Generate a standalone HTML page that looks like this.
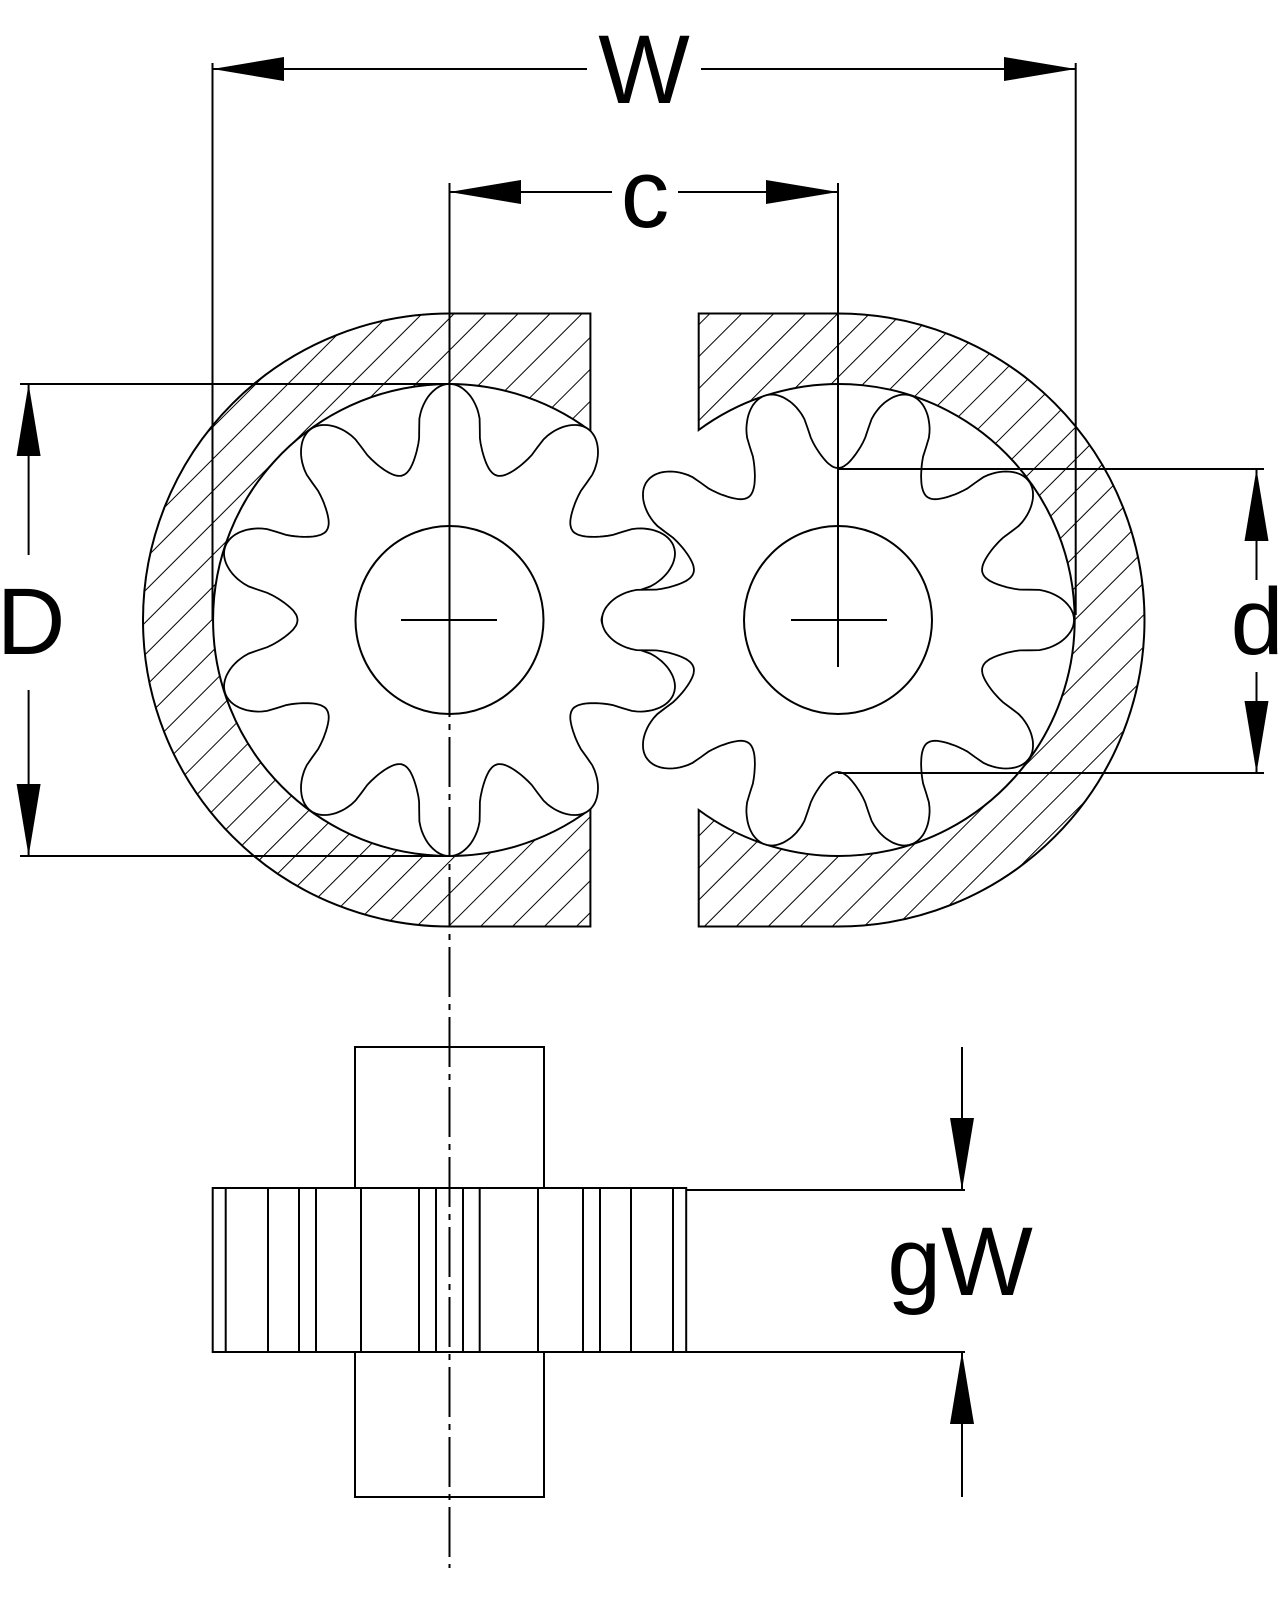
<!DOCTYPE html>
<html><head><meta charset="utf-8"><style>
html,body{margin:0;padding:0;background:#fff}
svg{display:block}
text{font-family:"Liberation Sans",Arial,sans-serif;fill:#000}
</style></head><body>
<svg id="s" width="1280" height="1600" viewBox="0 0 1280 1600" xmlns="http://www.w3.org/2000/svg">
<defs>
<pattern id="h" patternUnits="userSpaceOnUse" width="22.6" height="22.6" patternTransform="rotate(45)">
<line x1="0" y1="0" x2="0" y2="22.6" stroke="#000" stroke-width="2"/>
</pattern>
</defs>
<g fill="url(#h)" stroke="#000" stroke-width="2">
<path d="M449.5,313.5 H590.4 V431 A236,236 0 1 0 590.4,809 V926.5 H449.5 A306.5,306.5 0 0 1 449.5,313.5 Z"/>
<path d="M838,313.5 H698.7 V430 A236,236 0 1 1 698.7,810 V926.5 H838 A306.5,306.5 0 0 0 838,313.5 Z"/>
</g>
<path id="g1" fill="#fff" stroke="#000" stroke-width="1.8"/>
<path id="g2" fill="#fff" stroke="#000" stroke-width="1.8"/>
<g fill="none" stroke="#000" stroke-width="2">
<circle cx="449.5" cy="620" r="94"/>
<circle cx="838" cy="620" r="94"/>
<line x1="401" y1="620" x2="497" y2="620"/>
<line x1="791" y1="620" x2="887" y2="620"/>
<!-- bottom view -->
<rect x="355" y="1047" width="189" height="450"/>
<rect x="212.7" y="1188" width="473.5" height="164" fill="#fff"/>
<g id="vl"></g>
<line x1="449.5" y1="183" x2="449.5" y2="667"/>
<line x1="449.5" y1="667" x2="449.5" y2="1568" stroke-dasharray="50,7,6,7"/>
<line x1="838" y1="183" x2="838" y2="667"/>
<!-- W -->
<line x1="212.5" y1="63" x2="212.5" y2="620"/>
<line x1="1075.7" y1="63" x2="1075.7" y2="615"/>
<line x1="212.5" y1="69" x2="587" y2="69"/>
<line x1="701" y1="69" x2="1075.7" y2="69"/>
<!-- c -->
<line x1="449.5" y1="192" x2="612" y2="192"/>
<line x1="678" y1="192" x2="838" y2="192"/>
<!-- D -->
<line x1="20" y1="384" x2="449.5" y2="384"/>
<line x1="20" y1="856" x2="449.5" y2="856"/>
<line x1="28.6" y1="384" x2="28.6" y2="555"/>
<line x1="28.6" y1="690" x2="28.6" y2="856"/>
<!-- d -->
<line x1="838" y1="469" x2="1264" y2="469"/>
<line x1="838" y1="773" x2="1264" y2="773"/>
<line x1="1256.5" y1="469" x2="1256.5" y2="580"/>
<line x1="1256.5" y1="672" x2="1256.5" y2="773"/>
<line x1="686" y1="1190" x2="965" y2="1190"/>
<line x1="686" y1="1352" x2="965" y2="1352"/>
<line x1="962" y1="1047" x2="962" y2="1190"/>
<line x1="962" y1="1352" x2="962" y2="1497"/>
</g>
<g fill="#000">
<polygon points="212.5,69 284,57 284,81"/>
<polygon points="1075.7,69 1004,57 1004,81"/>
<polygon points="449.5,192 521,180 521,204"/>
<polygon points="838,192 766,180 766,204"/>
<polygon points="28.6,384 16.6,456 40.6,456"/>
<polygon points="28.6,856 16.6,784 40.6,784"/>
<polygon points="1256.5,469 1244.5,541 1268.5,541"/>
<polygon points="1256.5,773 1244.5,701 1268.5,701"/>
<polygon points="962,1190 950,1118 974,1118"/>
<polygon points="962,1352 950,1424 974,1424"/>
</g>
<text x="644" y="103" font-size="97" text-anchor="middle">W</text>
<text x="645" y="227" font-size="97" text-anchor="middle">c</text>
<text x="31" y="654" font-size="95" text-anchor="middle">D</text>
<text x="1257" y="654" font-size="95" text-anchor="middle">d</text>
<text x="960" y="1295" font-size="97" text-anchor="middle">gW</text>
</svg>
<script>
function gear(cx,cy,ph){
  var d="",N=720;
  for(var i=0;i<=N;i++){
    var t=i/N*2*Math.PI;
    var c=Math.cos(10*(t-ph));
    var g=(c<0?-1:1)*Math.pow(Math.abs(c),0.6);
    var r=194+42*g;
    var x=cx+r*Math.cos(t), y=cy-r*Math.sin(t);
    d+=(i?"L":"M")+x.toFixed(1)+","+y.toFixed(1);
  }
  return d+"Z";
}
document.getElementById("g1").setAttribute("d",gear(449.5,620,Math.PI/2));
document.getElementById("g2").setAttribute("d",gear(838,620,0));
var xs=[225.7,268,299,316,361,419,436,463,479.7,538,583,600,631,673];
var g=document.getElementById("vl"),s="";
xs.forEach(function(x){s+='<line x1="'+x+'" y1="1188" x2="'+x+'" y2="1352"/>';});
g.innerHTML=s;
</script>
</body></html>
